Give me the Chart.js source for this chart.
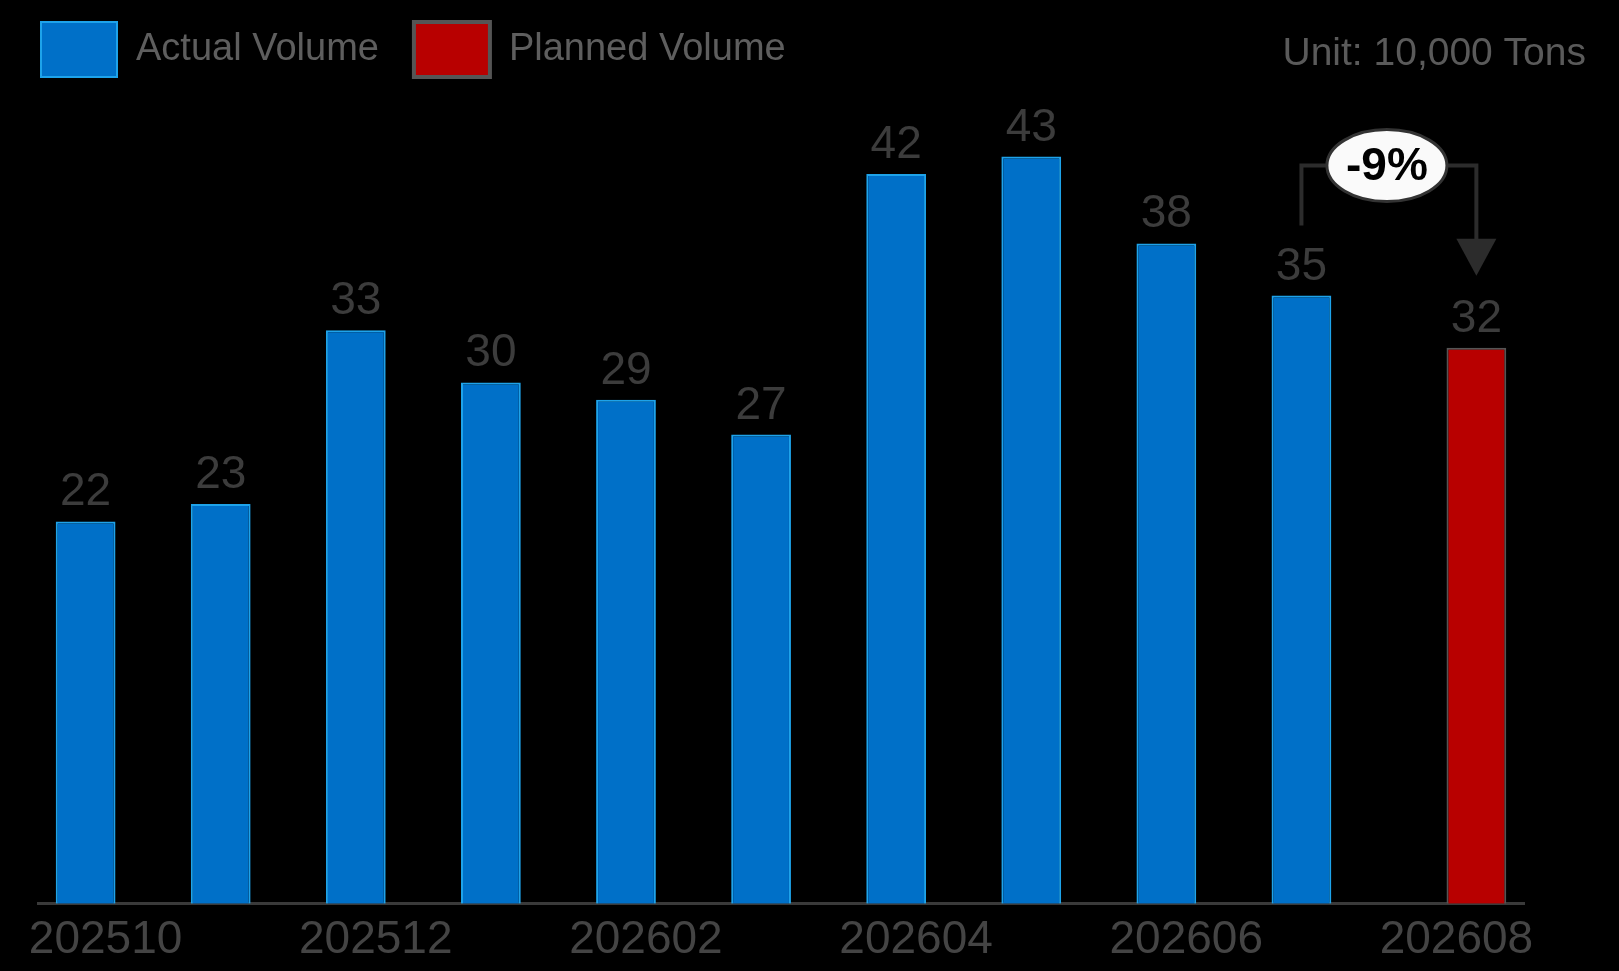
<!DOCTYPE html>
<html>
<head>
<meta charset="utf-8">
<script src="https://cdn.jsdelivr.net/npm/chart.js@4.4.1/dist/chart.umd.min.js"></script>
<style>
  html, body { margin: 0; padding: 0; background: #000; }
  #wrap { width: 1619px; height: 971px; position: relative; }
</style>
</head>
<body>
<div id="wrap"><canvas id="volChart"></canvas></div>
<script>
// months on the x axis
const months = ['202510', '202511', '202512', '202601', '202602', '202603',
                '202604', '202605', '202606', '202607', '202608'];
// unit: 10,000 tons
const actualVolume  = [22, 23, 33, 30, 29, 27, 42, 43, 38, 35, null];
const plannedVolume = [null, null, null, null, null, null, null, null, null, null, 32];
const changeLabel = '-9%';
const unitText = 'Unit: 10,000 Tons';

const sans = "'Liberation Sans', Arial, sans-serif";

// value labels above each bar
const valueLabels = {
  id: 'valueLabels',
  afterDatasetsDraw(chart) {
    const ctx = chart.ctx;
    ctx.save();
    ctx.font = '46px ' + sans;
    ctx.fillStyle = '#3c3c3c';
    ctx.textAlign = 'center';
    ctx.textBaseline = 'alphabetic';
    chart.data.datasets.forEach((ds, i) => {
      chart.getDatasetMeta(i).data.forEach((bar, j) => {
        const v = ds.data[j];
        if (v == null) return;
        ctx.fillText(String(v), bar.x, bar.y - 16);
      });
    });
    ctx.restore();
  }
};

// unit note and the -9% bracket between the last two bars
const extras = {
  id: 'extras',
  afterDraw(chart) {
    const ctx = chart.ctx;
    ctx.save();
    ctx.font = '39px ' + sans;
    ctx.fillStyle = '#5a5a5a';
    ctx.textAlign = 'right';
    ctx.textBaseline = 'alphabetic';
    ctx.fillText(unitText, chart.width - 33, 65);

    const from = chart.getDatasetMeta(0).data[9];
    const to = chart.getDatasetMeta(1).data[10];
    const topY = Math.min(from.y, to.y) - 130;
    const midX = (from.x + to.x) / 2;
    const tipY = to.y - 72;

    ctx.strokeStyle = '#2c2c2c';
    ctx.fillStyle = '#2c2c2c';
    ctx.lineWidth = 4;
    ctx.beginPath();
    ctx.moveTo(from.x, from.y - 70);
    ctx.lineTo(from.x, topY);
    ctx.lineTo(to.x, topY);
    ctx.lineTo(to.x, tipY - 34);
    ctx.stroke();
    ctx.beginPath();
    ctx.moveTo(to.x - 20, tipY - 37);
    ctx.lineTo(to.x + 20, tipY - 37);
    ctx.lineTo(to.x, tipY);
    ctx.closePath();
    ctx.fill();

    ctx.beginPath();
    ctx.ellipse(midX - 2, topY, 60, 36, 0, 0, Math.PI * 2);
    ctx.fillStyle = '#fafafa';
    ctx.fill();
    ctx.lineWidth = 3;
    ctx.strokeStyle = '#333';
    ctx.stroke();

    ctx.font = 'bold 46px ' + sans;
    ctx.fillStyle = '#000';
    ctx.textAlign = 'center';
    ctx.textBaseline = 'middle';
    ctx.fillText(changeLabel, midX - 2, topY + 2);
    ctx.restore();
  }
};

new Chart(document.getElementById('volChart'), {
  type: 'bar',
  data: {
    labels: months,
    datasets: [{
      label: 'Actual Volume',
      data: actualVolume,
      backgroundColor: '#0070c8',
      borderColor: '#1ea3ea',
      borderWidth: 2,
      categoryPercentage: 0.59,
      barPercentage: 1.5
    }, {
      label: 'Planned Volume',
      data: plannedVolume,
      backgroundColor: '#b80000',
      borderColor: '#555',
      borderWidth: 2,
      categoryPercentage: 0.59,
      barPercentage: 1.5
    }]
  },
  options: {
    responsive: true,
    maintainAspectRatio: false,
    animation: false,
    layout: { padding: { top: -13, left: 6, right: 95, bottom: -6 } },
    plugins: {
      legend: {
        position: 'top',
        align: 'start',
        labels: {
          boxWidth: 76,
          boxHeight: 55,
          padding: 35,
          color: '#5e5e5e',
          font: { family: sans, size: 38 },
          generateLabels(chart) {
            const items = Chart.defaults.plugins.legend.labels.generateLabels(chart);
            items.forEach((it, i) => { it.lineWidth = i === 1 ? 4 : 2; });
            return items;
          }
        }
      },
      tooltip: { enabled: false }
    },
    scales: {
      x: {
        grid: { display: false, drawTicks: false },
        border: { display: true, color: '#3a3a3a', width: 3 },
        ticks: {
          autoSkip: false,
          maxRotation: 0,
          padding: 9,
          color: '#444',
          font: { family: sans, size: 46 },
          callback(val, idx) { return idx % 2 === 0 ? this.getLabelForValue(val) : ''; }
        }
      },
      y: {
        min: 0,
        max: 47,
        grid: { display: false, drawTicks: false },
        border: { display: false },
        ticks: { display: false },
        afterFit(scale) { scale.width = 32; }
      }
    }
  },
  plugins: [valueLabels, extras]
});
</script>
</body>
</html>
